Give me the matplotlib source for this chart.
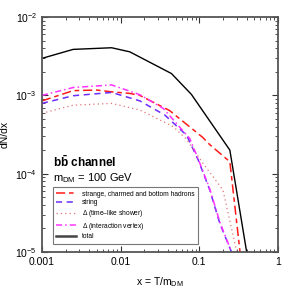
import matplotlib
matplotlib.use("Agg")
import matplotlib.pyplot as plt
from matplotlib.lines import Line2D

plt.rcParams['font.family'] = ['Liberation Sans', 'DejaVu Sans']
plt.rcParams['mathtext.fontset'] = 'custom'
plt.rcParams['mathtext.rm'] = 'Liberation Sans'
plt.rcParams['mathtext.it'] = 'Liberation Sans'
plt.rcParams['mathtext.bf'] = 'Liberation Sans:bold'

# --- data ---
x_total = [0.001, 0.0025, 0.0077, 0.0131, 0.0444, 0.0795, 0.245, 0.5]
y_total = [2.97e-3, 3.87e-3, 4.06e-3, 3.6e-3, 1.9e-3, 1.03e-3, 2.0e-4, 2.6e-6]

x_hadrons = [0.001, 0.0025, 0.005, 0.0077, 0.0131, 0.0176, 0.042, 0.111, 0.136, 0.245, 0.33, 0.4]
y_hadrons = [8.5e-4, 1.15e-3, 1.17e-3, 1.11e-3, 1.06e-3, 1.0e-3, 6.4e-4, 2.9e-4, 2.35e-4, 1.42e-4, 1.0e-5, 1.5e-6]

x_string = [0.001, 0.0025, 0.0077, 0.0131, 0.0176, 0.0366, 0.069, 0.097, 0.136, 0.183, 0.257, 0.3]
y_string = [7.9e-4, 9.9e-4, 1.09e-3, 9.3e-4, 8.5e-4, 5.6e-4, 3.1e-4, 1.5e-4, 6.2e-5, 2.3e-5, 1.0e-5, 4e-6]

x_shower = [0.001, 0.0025, 0.0077, 0.0176, 0.0466, 0.069, 0.112, 0.2, 0.30, 0.35]
y_shower = [5.9e-4, 7.5e-4, 7.9e-4, 6.5e-4, 4.0e-4, 2.75e-4, 1.35e-4, 6.2e-5, 1.0e-5, 3e-6]

x_vertex = [0.001, 0.0025, 0.0077, 0.0176, 0.035, 0.076, 0.098, 0.136, 0.183, 0.257, 0.3]
y_vertex = [1.0e-3, 1.26e-3, 1.36e-3, 1.02e-3, 6.8e-4, 2.8e-4, 1.5e-4, 6.4e-5, 2.4e-5, 1.0e-5, 4e-6]

labels = ["strange, charmed and bottom hadrons", "string",
          "$\\Delta$ (time\u2013like shower)", "$\\Delta$ (interaction vertex)", "total"]

fig = plt.figure(figsize=(2.95, 2.95), dpi=100)
ax = fig.add_axes([0.142, 0.146, 0.8, 0.796])

l1, = ax.plot(x_hadrons, y_hadrons, color='#ff1a1a', lw=1.1, dashes=(6, 2.5, 3, 2.5))
l2, = ax.plot(x_string, y_string, color='#6a2cff', lw=1.1, dashes=(4, 3))
l3, = ax.plot(x_shower, y_shower, color='#e07575', lw=0.9, dashes=(1, 2.5))
l4, = ax.plot(x_vertex, y_vertex, color='#ff33ff', lw=1.1, dashes=(4, 2, 1, 2))
l5, = ax.plot(x_total, y_total, color='black', lw=1.0)

ax.set_xscale('log')
ax.set_yscale('log')
ax.set_xlim(0.001, 1)
ax.set_ylim(1e-5, 1e-2)
ax.set_xticks([0.001, 0.01, 0.1, 1])
ax.set_xticklabels(['0.001', '0.01', '0.1', '1'])
ax.tick_params(which='both', direction='in', top=True, right=True, labelsize=7.5, colors='#333333')
ax.tick_params(which='major', length=4, width=0.8, labelcolor='black')
ax.tick_params(which='minor', length=2, width=0.6)
for s in ax.spines.values():
    s.set_color('#555555')
    s.set_linewidth(1.3)

ax.set_xlabel('x = T/m$_{\\rm DM}$', fontsize=7.5, labelpad=6)
ax.set_ylabel('dN/dx', fontsize=7.5, labelpad=4)

ax.text(0.045, 0.383, '$\\mathbf{b\\bar{b}}$ channel', transform=ax.transAxes,
        fontsize=8.5, fontweight='bold', va='center')
ax.text(0.045, 0.315, 'm$_{\\rm DM}$ = 100 GeV', transform=ax.transAxes,
        fontsize=8, va='center')

leg = ax.legend([l1, l2, l3, l4, l5], labels, loc='lower left', bbox_to_anchor=(0.045, 0.034),
                fontsize=4.8, frameon=True, fancybox=False, edgecolor='#555555',
                handlelength=3, borderpad=0.55, labelspacing=0.25, borderaxespad=0)
leg.get_frame().set_linewidth(0.8)
leg.legend_handles[4].set_linewidth(1.8)
leg.legend_handles[4].set_color('#444444')

fig.savefig('out.png', dpi=100)
